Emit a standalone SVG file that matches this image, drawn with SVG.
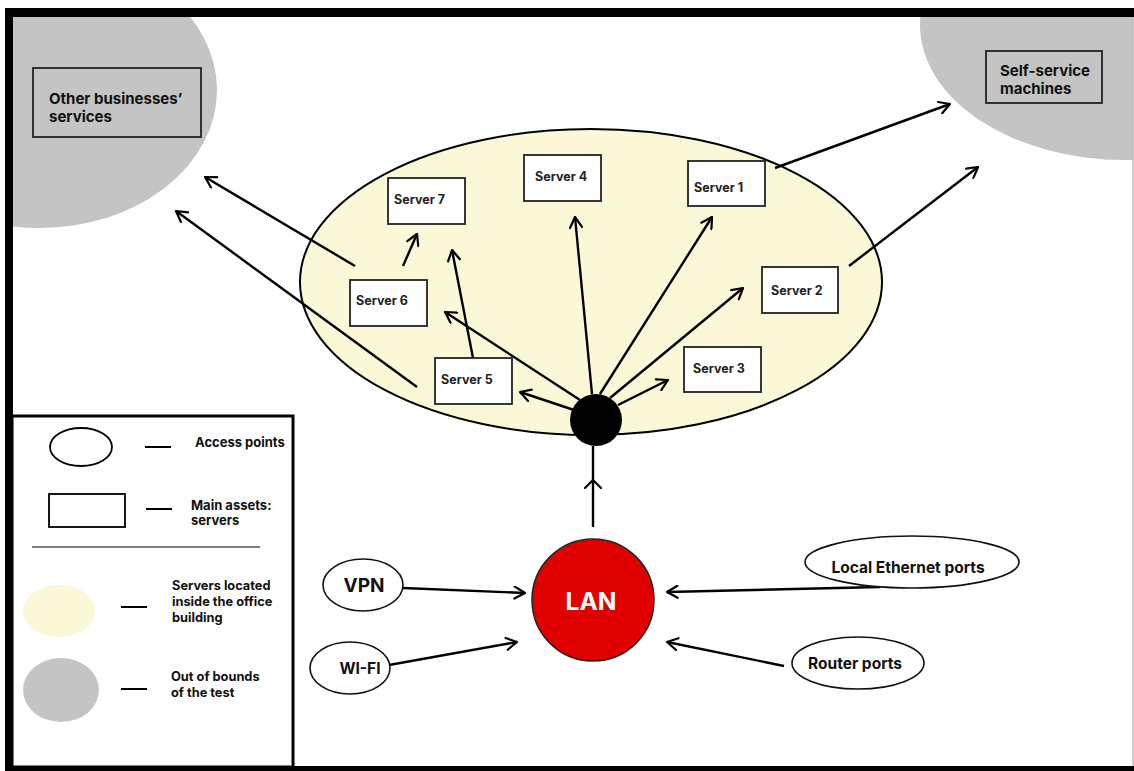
<svg xmlns="http://www.w3.org/2000/svg" width="1134" height="771" viewBox="0 0 1134 771">
  <defs>
    <marker id="arrow" viewBox="0 0 14 14" refX="12.5" refY="7" markerWidth="14" markerHeight="14" markerUnits="userSpaceOnUse" orient="auto">
      <path d="M2,1 L12.5,7 L2,13" fill="none" stroke="#000" stroke-width="2.2" stroke-linecap="round" stroke-linejoin="round"/>
    </marker>
    <clipPath id="inner">
      <rect x="13" y="17" width="1120" height="749"/>
    </clipPath>
    <style>
      .lbl { font-family: Inter, "Liberation Sans", Arial, sans-serif; font-weight: 700; fill: #111; }
      .srv rect { fill: #fff; stroke: #222; stroke-width: 1.8; }
      .srv text { font-family: Inter, "Liberation Sans", Arial, sans-serif; font-weight: 700; font-size: 12.5px; fill: #222; }
      .conn line { stroke: #000; stroke-width: 2.4; fill: none; marker-end: url(#arrow); }
      .oval { fill: #fff; stroke: #111; stroke-width: 1.6; }
    </style>
  </defs>

  <rect width="1134" height="771" fill="#fff"/>

  <!-- out-of-scope regions -->
  <g clip-path="url(#inner)">
    <ellipse id="zone-other" cx="40" cy="90" rx="177" ry="138" fill="#C4C4C4"/>
    <ellipse id="zone-self" cx="1125" cy="25" rx="205" ry="135" fill="#C4C4C4"/>
  </g>

  <!-- office building -->
  <ellipse id="office" cx="591" cy="282" rx="291" ry="153" fill="#FBF8D8" stroke="#000" stroke-width="2"/>

  <!-- external services -->
  <g id="other-businesses">
    <rect x="33" y="68" width="168" height="69" fill="none" stroke="#222" stroke-width="1.8"/>
    <text class="lbl" font-size="15" x="49" y="104">Other businesses’</text>
    <text class="lbl" font-size="15" x="49" y="122">services</text>
  </g>
  <g id="self-service">
    <rect x="986" y="51" width="116" height="52" fill="none" stroke="#222" stroke-width="1.8"/>
    <text class="lbl" font-size="15" x="1000" y="76">Self-service</text>
    <text class="lbl" font-size="15" x="1000" y="94">machines</text>
  </g>

  <!-- servers -->
  <g id="server7" class="srv"><rect x="388" y="178" width="77" height="46"/><text x="394" y="204">Server 7</text></g>
  <g id="server4" class="srv"><rect x="524" y="155" width="77" height="46"/><text x="535" y="181">Server 4</text></g>
  <g id="server1" class="srv"><rect x="688" y="161" width="77" height="45"/><text x="694" y="192">Server 1</text></g>
  <g id="server6" class="srv"><rect x="350" y="280" width="77" height="46"/><text x="356" y="305">Server 6</text></g>
  <g id="server2" class="srv"><rect x="762" y="267" width="76" height="46"/><text x="771" y="295">Server 2</text></g>
  <g id="server5" class="srv"><rect x="435" y="358" width="77" height="46"/><text x="441" y="384">Server 5</text></g>
  <g id="server3" class="srv"><rect x="684" y="347" width="77" height="45"/><text x="693" y="373">Server 3</text></g>

  <!-- connectors -->
  <g id="connectors" class="conn">
    <line x1="592" y1="394" x2="575" y2="217"/>
    <line x1="600" y1="394" x2="712" y2="217"/>
    <line x1="610" y1="398" x2="743" y2="288"/>
    <line x1="618" y1="405" x2="668" y2="380"/>
    <line x1="580" y1="400" x2="445" y2="312"/>
    <line x1="574" y1="410" x2="520" y2="392"/>
    <line x1="473" y1="358" x2="452" y2="250"/>
    <line x1="403" y1="266" x2="417" y2="234"/>
    <line x1="355" y1="266" x2="205" y2="177"/>
    <line x1="417" y1="387" x2="176" y2="211"/>
    <line x1="775" y1="168" x2="950" y2="104"/>
    <line x1="849" y1="266" x2="978" y2="167"/>
    <line x1="403" y1="588" x2="525" y2="593"/>
    <line x1="389" y1="665" x2="517" y2="642"/>
    <line x1="880" y1="587" x2="667" y2="592"/>
    <line x1="784" y1="666" x2="667" y2="642"/>
    <line x1="593" y1="527" x2="593" y2="446" style="marker-end:none"/>
    <path d="M585,488 L593,480 L601,488" fill="none" stroke="#000" stroke-width="2.2" stroke-linecap="round" stroke-linejoin="round"/>
  </g>

  <!-- access point hub -->
  <circle id="hub" cx="596" cy="420" r="26" fill="#000"/>

  <!-- LAN -->
  <g id="lan">
    <circle cx="593" cy="600" r="61" fill="#E00000" stroke="#222" stroke-width="1.5"/>
    <text x="591" y="610" text-anchor="middle" font-family="Inter, 'Liberation Sans', Arial, sans-serif" font-weight="700" font-size="24.5" fill="#fff">LAN</text>
  </g>

  <!-- access points -->
  <g id="vpn">
    <ellipse class="oval" cx="363" cy="585" rx="40" ry="26"/>
    <text class="lbl" font-size="19" x="364" y="592" text-anchor="middle">VPN</text>
  </g>
  <g id="wifi">
    <ellipse class="oval" cx="350" cy="668" rx="40" ry="26"/>
    <text class="lbl" font-size="15.5" x="360" y="674" text-anchor="middle">WI-FI</text>
  </g>
  <g id="ethernet">
    <ellipse class="oval" cx="912" cy="562" rx="107" ry="26"/>
    <text class="lbl" font-size="15.5" x="908" y="573" text-anchor="middle">Local Ethernet ports</text>
  </g>
  <g id="router">
    <ellipse class="oval" cx="858" cy="663" rx="66" ry="26"/>
    <text class="lbl" font-size="15.5" x="855" y="669" text-anchor="middle">Router ports</text>
  </g>

  <!-- legend -->
  <g id="legend">
    <rect x="12" y="416" width="281" height="351" fill="#fff" stroke="#000" stroke-width="3"/>
    <ellipse cx="81" cy="447" rx="31" ry="19" fill="none" stroke="#000" stroke-width="1.8"/>
    <line x1="145" y1="447" x2="171" y2="447" stroke="#000" stroke-width="2"/>
    <text class="lbl" font-size="13" x="195" y="447">Access points</text>
    <rect x="49" y="494" width="76" height="33" fill="none" stroke="#000" stroke-width="1.8"/>
    <line x1="146" y1="509" x2="172" y2="509" stroke="#000" stroke-width="2"/>
    <text class="lbl" font-size="13" x="191" y="510">Main assets:</text>
    <text class="lbl" font-size="13" x="191" y="525">servers</text>
    <line x1="32" y1="547" x2="260" y2="547" stroke="#000" stroke-width="1.2"/>
    <ellipse cx="59" cy="611" rx="36" ry="26" fill="#FBF8D8"/>
    <line x1="121" y1="607" x2="147" y2="607" stroke="#000" stroke-width="2"/>
    <text class="lbl" font-size="12.8" x="172" y="590">Servers located</text>
    <text class="lbl" font-size="12.8" x="172" y="606">inside the office</text>
    <text class="lbl" font-size="12.8" x="172" y="622">building</text>
    <ellipse cx="61" cy="690" rx="38" ry="32" fill="#C4C4C4"/>
    <line x1="121" y1="689" x2="147" y2="689" stroke="#000" stroke-width="2"/>
    <text class="lbl" font-size="12.8" x="171" y="681">Out of bounds</text>
    <text class="lbl" font-size="12.8" x="171" y="697">of the test</text>
  </g>

  <!-- outer frame -->
  <g id="frame">
    <rect x="5" y="8" width="1129" height="9" fill="#000"/>
    <rect x="5" y="8" width="8" height="763" fill="#000"/>
    <rect x="5" y="766" width="1129" height="5" fill="#000"/>
    <line x1="1133" y1="17" x2="1133" y2="766" stroke="#bbb" stroke-width="1.5"/>
  </g>
</svg>
